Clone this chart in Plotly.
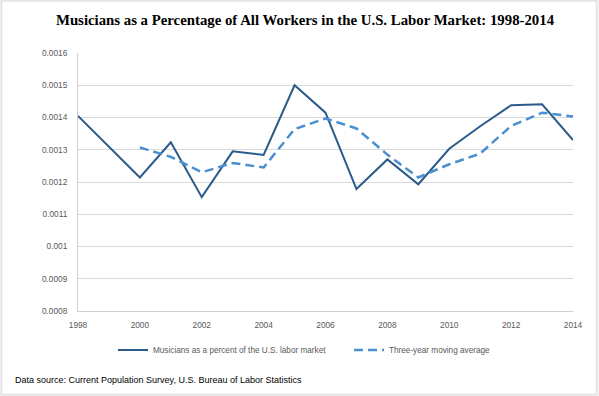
import plotly.graph_objects as go

years = list(range(1998, 2015))
musicians_share = [0.001405, 0.00131, 0.001214, 0.001323, 0.001153, 0.001295, 0.001284,
                   0.0015, 0.001415, 0.001178, 0.00127, 0.001193, 0.001303, 0.001373,
                   0.001438, 0.001441, 0.00133]
ma_years = list(range(2000, 2015))
moving_avg = [0.001307, 0.001278, 0.00123, 0.001259, 0.001245, 0.001364, 0.001397,
              0.001366, 0.001285, 0.001214, 0.001255, 0.001288, 0.001374, 0.001415, 0.001403]
y_tick_vals = [0.0008, 0.0009, 0.001, 0.0011, 0.0012, 0.0013, 0.0014, 0.0015, 0.0016]
y_tick_text = ["0.0008", "0.0009", "0.001", "0.0011", "0.0012", "0.0013", "0.0014", "0.0015", "0.0016"]
x_tick_vals = [1998, 2000, 2002, 2004, 2006, 2008, 2010, 2012, 2014]

W, H = 599, 396
L, R, T, B = 78, 26, 53, 85
pw, ph = W - L - R, H - T - B

def px(x):
    return (x - L) / pw

def py(y):
    return (H - B - y) / ph

fig = go.Figure()
fig.add_trace(go.Scatter(x=years, y=musicians_share, mode="lines",
                         name="Musicians as a percent of the U.S. labor market",
                         line=dict(color="#2B5B8A", width=2), legend="legend"))
fig.add_trace(go.Scatter(x=ma_years, y=moving_avg, mode="lines",
                         name="Three-year moving average",
                         line=dict(color="#4A8FD0", width=2.5, dash="9px,5px"), legend="legend2"))

legend_font = dict(family="Liberation Sans", size=8.2, color="#595959")
fig.update_layout(
    width=W, height=H,
    margin=dict(l=L, r=R, t=T, b=B, pad=0),
    paper_bgcolor="#f0f0f0", plot_bgcolor="white",
    title=dict(text="<b>Musicians as a Percentage of All Workers in the U.S. Labor Market: 1998-2014</b>",
               font=dict(family="Liberation Serif", size=14.8, color="black"),
               x=305 / W, xanchor="center", y=1 - 20 / H, yanchor="middle"),
    xaxis=dict(range=[1998, 2014], tickvals=x_tick_vals, showgrid=False, zeroline=False,
               showline=True, linecolor="#d0d0d0", linewidth=1, ticks="",
               ticklabelstandoff=6,
               tickfont=dict(family="Liberation Sans", size=8.3, color="#595959")),
    yaxis=dict(range=[0.0008, 0.0016], tickvals=y_tick_vals, ticktext=y_tick_text,
               showgrid=True, gridcolor="#d9d9d9", gridwidth=1, zeroline=False,
               showline=True, linecolor="#d0d0d0", linewidth=1, ticks="",
               ticklabelstandoff=8,
               tickfont=dict(family="Liberation Sans", size=8.3, color="#595959")),
    legend=dict(orientation="h", x=px(113), xanchor="left", y=py(350), yanchor="middle",
                bgcolor="rgba(0,0,0,0)", font=legend_font),
    legend2=dict(orientation="h", x=px(349), xanchor="left", y=py(350), yanchor="middle",
                 bgcolor="rgba(0,0,0,0)", font=legend_font),
    showlegend=True,
    shapes=[dict(type="rect", xref="paper", yref="paper", layer="below",
                 x0=px(1.5), x1=px(596.5), y0=py(394.5), y1=py(1),
                 line=dict(color="#e2e2e2", width=1.5), fillcolor="white")],
    annotations=[dict(text="Data source: Current Population Survey, U.S. Bureau of Labor Statistics",
                      xref="paper", yref="paper", x=px(13), y=py(380), xanchor="left",
                      yanchor="middle", showarrow=False,
                      font=dict(family="Liberation Sans", size=9, color="black"))],
)

fig.write_html("out.html", config={"displayModeBar": False},
               post_script="document.body.style.margin='0px';")
